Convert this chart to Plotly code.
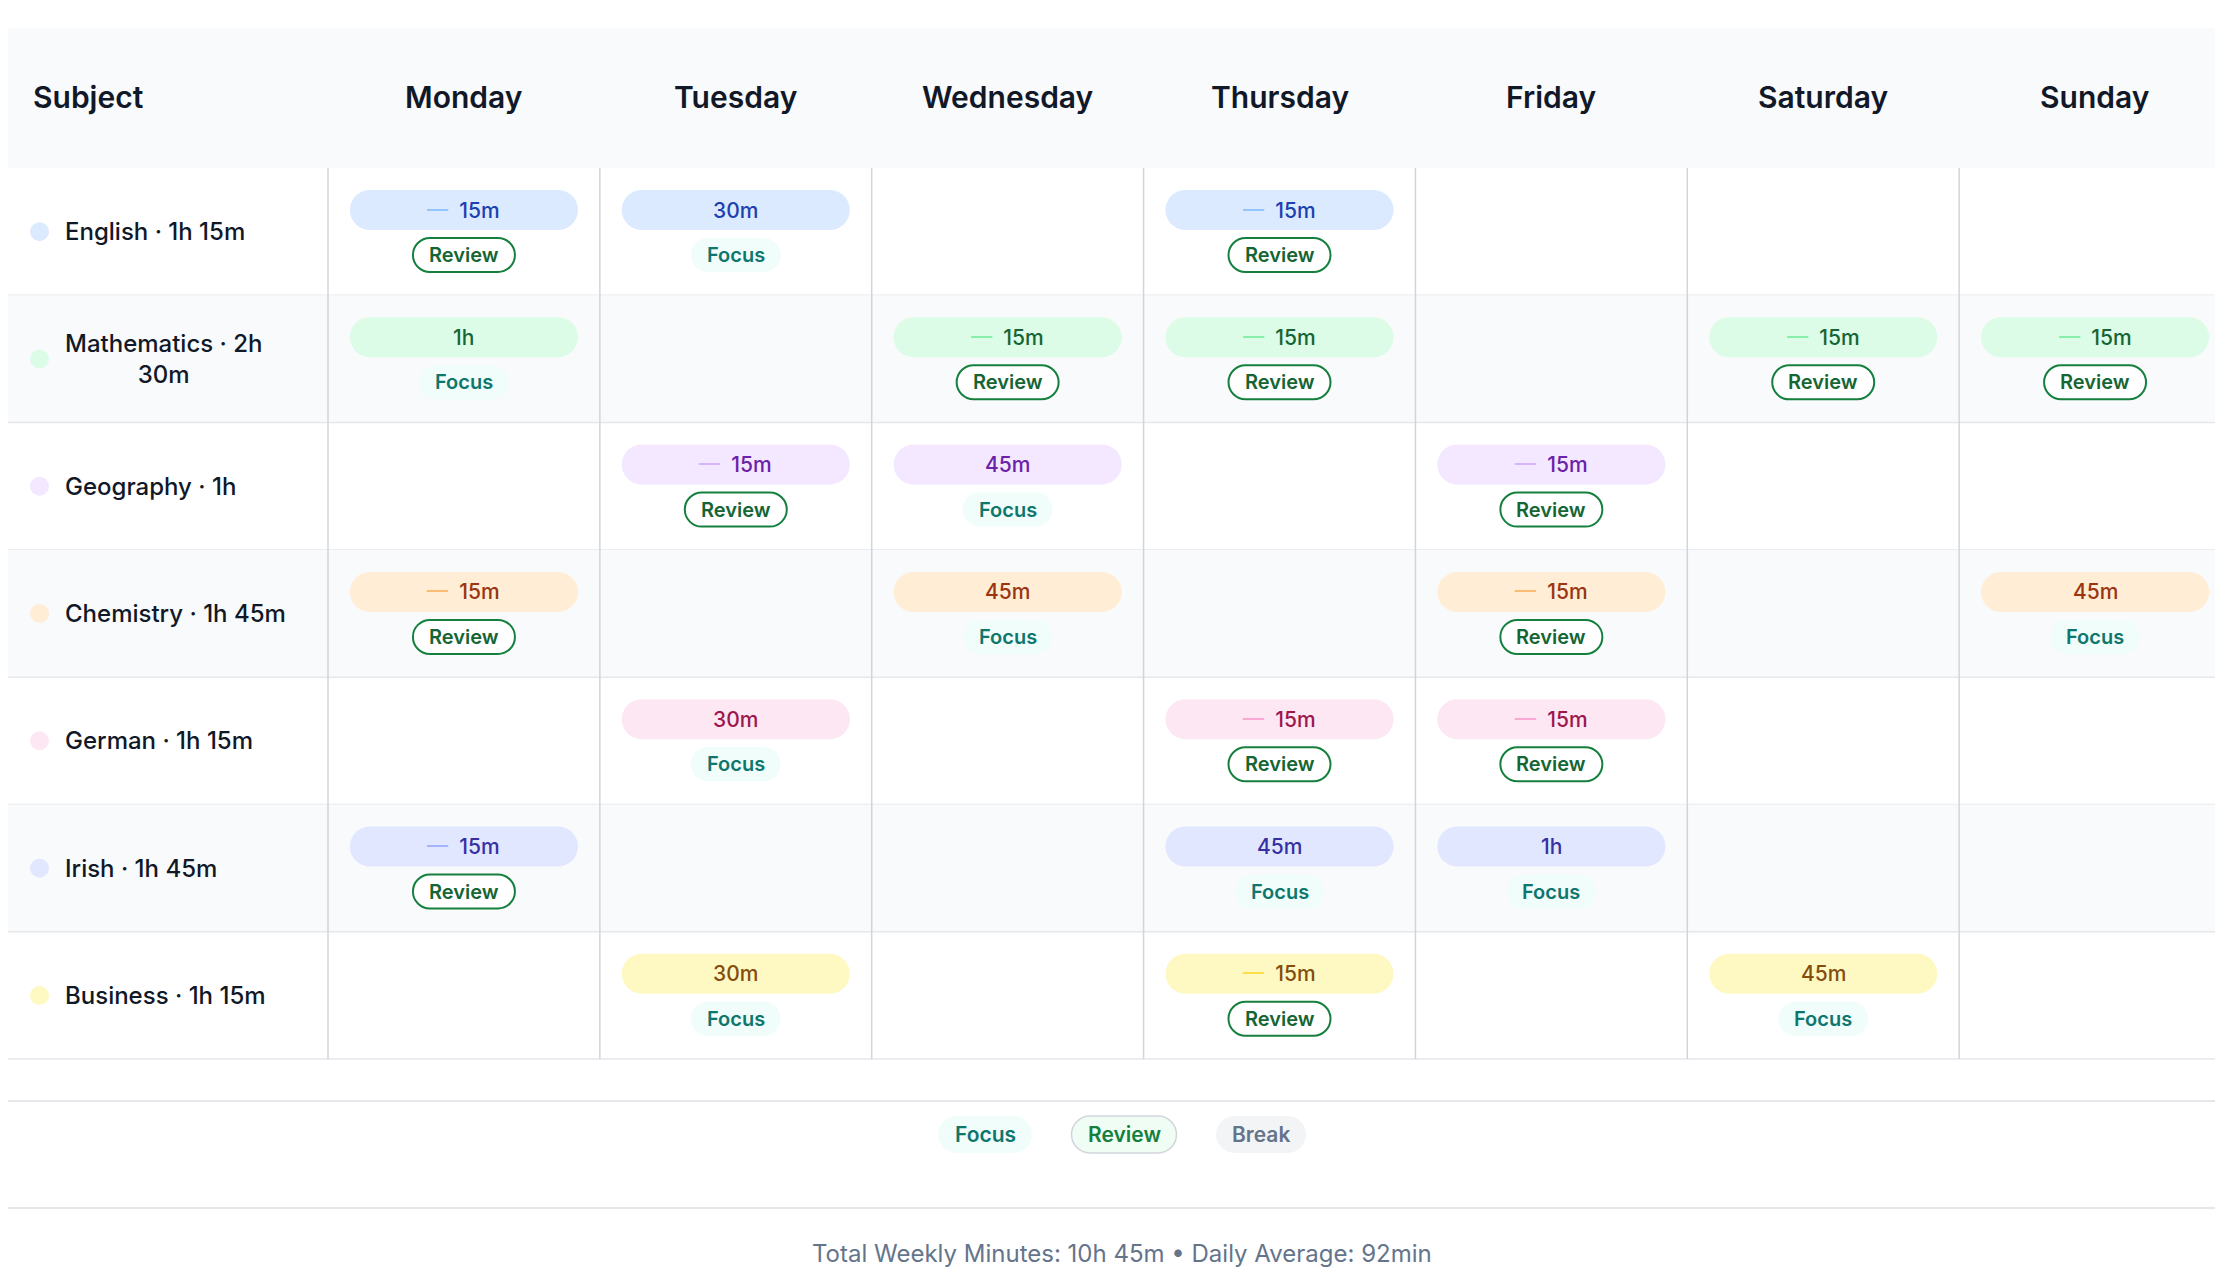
import plotly.graph_objects as go

days = ["Monday", "Tuesday", "Wednesday", "Thursday", "Friday", "Saturday", "Sunday"]
subjects = ["English", "Mathematics", "Geography", "Chemistry", "German", "Irish", "Business"]
subject_totals = ["1h 15m", "2h 30m", "1h", "1h 45m", "1h 15m", "1h 45m", "1h 15m"]
pill_bg = ["#dbeafe", "#dcfce7", "#f3e8ff", "#ffedd5", "#fce7f3", "#e0e7ff", "#fef9c3"]
pill_fg = ["#1e40af", "#166534", "#6b21a8", "#9a3412", "#9d174d", "#3730a3", "#854d0e"]
dash_fg = ["#93c5fd", "#86efac", "#d8b4fe", "#fdba74", "#f9a8d4", "#a5b4fc", "#fde047"]
# sessions[subject][day] = (duration, type) or None
sessions = [
    [("15m", "Review"), ("30m", "Focus"), None, ("15m", "Review"), None, None, None],
    [("1h", "Focus"), None, ("15m", "Review"), ("15m", "Review"), None, ("15m", "Review"), ("15m", "Review")],
    [None, ("15m", "Review"), ("45m", "Focus"), None, ("15m", "Review"), None, None],
    [("15m", "Review"), None, ("45m", "Focus"), None, ("15m", "Review"), None, ("45m", "Focus")],
    [None, ("30m", "Focus"), None, ("15m", "Review"), ("15m", "Review"), None, None],
    [("15m", "Review"), None, None, ("45m", "Focus"), ("1h", "Focus"), None, None],
    [None, ("30m", "Focus"), None, ("15m", "Review"), None, ("45m", "Focus"), None],
]
legend_items = ["Focus", "Review", "Break"]
footer = "Total Weekly Minutes: 10h 45m • Daily Average: 92min"

W, H = 2223, 1273
FONT = "Inter"
hdr_top, hdr_bot = 20, 160
row_h = 127.3
col0_w = 320
col_w = (W - col0_w) / 7

shapes, ann = [], []

def rrect(x0, y0, x1, y1, fill, line=None, lw=0):
    r = (y1 - y0) / 2
    k = 0.5523 * r
    p = (f"M{x0+r},{y0} L{x1-r},{y0} C{x1-r+k},{y0} {x1},{y0+r-k} {x1},{y0+r} "
         f"C{x1},{y0+r+k} {x1-r+k},{y1} {x1-r},{y1} L{x0+r},{y1} "
         f"C{x0+r-k},{y1} {x0},{y0+r+k} {x0},{y0+r} C{x0},{y0+r-k} {x0+r-k},{y0} {x0+r},{y0} Z")
    shapes.append(dict(type="path", path=p, xref="x", yref="y", fillcolor=fill,
                       line=dict(color=line or fill, width=lw), layer="below"))

def text(x, y, t, size, color, weight=400, xanchor="center"):
    ann.append(dict(x=x, y=y, xref="x", yref="y", text=t, showarrow=False, xanchor=xanchor,
                    yanchor="middle", font=dict(family=FONT, size=size, color=color, weight=weight)))

# header band
shapes.append(dict(type="rect", x0=0, x1=W, y0=hdr_top, y1=hdr_bot, fillcolor="#f8fafc", line_width=0, layer="below"))
text(23, 89, "Subject", 30, "#111827", 600, "left")
for j, d in enumerate(days):
    text(col0_w + col_w * (j + 0.5), 89, d, 30, "#111827", 600)

tag_style = {"Focus": ("#f0fdfa", "#f0fdfa", "#0f766e", 0),
             "Review": ("#ffffff", "#15803d", "#166534", 2),
             "Break": ("#f3f4f6", "#f3f4f6", "#6b7280", 0)}

for i, s in enumerate(subjects):
    y0 = hdr_bot + i * row_h
    if i % 2 == 1:
        shapes.append(dict(type="rect", x0=0, x1=W, y0=y0, y1=y0 + row_h, fillcolor="#f8fafc", line_width=0, layer="below"))
    shapes.append(dict(type="line", x0=0, x1=W, y0=y0 + row_h, y1=y0 + row_h, line=dict(color="#e5e7eb", width=1.5), layer="below"))
    cy = y0 + row_h / 2
    shapes.append(dict(type="circle", x0=22, x1=41, y0=cy - 9.5, y1=cy + 9.5, fillcolor=pill_bg[i], line_width=0))
    label = f"{s} · {subject_totals[i]}"
    if len(label) > 18:
        label = f"{s} · {subject_totals[i].split(' ')[0]}<br>{subject_totals[i].split(' ')[1]}"
    text(55, cy, label, 24, "#111827", 500, "left")
    for j in range(7):
        e = sessions[i][j]
        if not e:
            continue
        cx = col0_w + col_w * (j + 0.5)
        dur, typ = e
        py = y0 + 42
        rrect(cx - 114, py - 20, cx + 114, py + 20, pill_bg[i])
        t = dur if typ == "Focus" else f"<span style='color:{dash_fg[i]}'>—</span>  {dur}"
        text(cx, py, t, 21, pill_fg[i], 500)
        ty = y0 + 87
        bg, ln, fg, lw = tag_style[typ]
        wdt = 102 if typ == "Review" else 90
        rrect(cx - wdt / 2, ty - 17, cx + wdt / 2, ty + 17, bg, ln, lw)
        text(cx, ty, typ, 20, fg, 600)

grid_bot = hdr_bot + 7 * row_h
for j in range(7):
    x = col0_w + col_w * j
    shapes.append(dict(type="line", x0=x, x1=x, y0=hdr_bot, y1=grid_bot, line=dict(color="#d1d5db", width=1.5), layer="below"))

# legend
shapes.append(dict(type="line", x0=0, x1=W, y0=1093, y1=1093, line=dict(color="#e5e7eb", width=2), layer="below"))
shapes.append(dict(type="line", x0=0, x1=W, y0=1200, y1=1200, line=dict(color="#e5e7eb", width=2), layer="below"))
leg_x = [977, 1116, 1253]
leg_w = [94, 105, 90]
leg_style = {"Focus": ("#f0fdfa", "#f0fdfa", "#0f766e", 0),
             "Review": ("#f0fdf4", "#d1d5db", "#15803d", 1.5),
             "Break": ("#f3f4f6", "#f3f4f6", "#64748b", 0)}
for k, it in enumerate(legend_items):
    bg, ln, fg, lw = leg_style[it]
    rrect(leg_x[k] - leg_w[k] / 2, 1108, leg_x[k] + leg_w[k] / 2, 1145, bg, ln, lw)
    text(leg_x[k], 1126, it, 21, fg, 600)

text(1114, 1245, footer, 24, "#64748b", 400)

fig = go.Figure()
fig.update_layout(width=W, height=H, margin=dict(l=0, r=0, t=0, b=0),
                  paper_bgcolor="white", plot_bgcolor="white", shapes=shapes, annotations=ann,
                  xaxis=dict(range=[0, W], visible=False, fixedrange=True),
                  yaxis=dict(range=[H, 0], visible=False, fixedrange=True),
                  showlegend=False)
fig.write_html("out.html", config={"displayModeBar": False})
